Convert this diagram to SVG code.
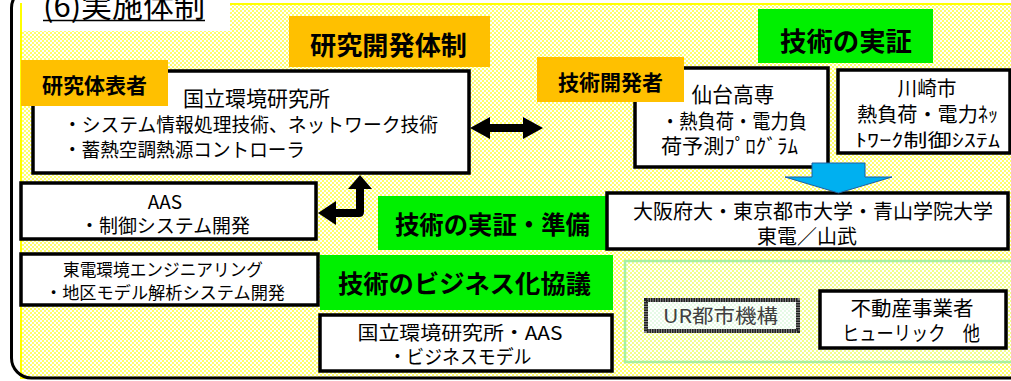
<svg xmlns="http://www.w3.org/2000/svg" width="1011" height="381" viewBox="0 0 1011 381">
<defs>
<pattern id="dots" width="4" height="4" patternUnits="userSpaceOnUse">
<rect width="4" height="4" fill="#ffff6a"/>
<rect x="0" y="0" width="2" height="2" fill="#ffffff"/>
<rect x="2" y="2" width="2" height="2" fill="#ffffff"/>
</pattern>
<pattern id="dotsG" width="4" height="4" patternUnits="userSpaceOnUse">
<rect width="4" height="4" fill="#f2ff8a"/>
<rect x="0" y="0" width="2" height="2" fill="#ffffff"/>
<rect x="2" y="2" width="2" height="2" fill="#ffffff"/>
</pattern>
<pattern id="dotsM" width="4" height="4" patternUnits="userSpaceOnUse">
<rect width="4" height="4" fill="#e6fae6"/>
<rect x="0" y="0" width="2" height="2" fill="#ffffff"/>
<rect x="2" y="2" width="2" height="2" fill="#ffffff"/>
</pattern>
</defs>
<style>
text{font-family:'Noto Sans CJK JP','Liberation Sans',sans-serif;fill:#000}
.box{fill:#fff;stroke:#000;stroke-width:3.5}
.org{fill:#ffc000}
.grn{fill:#00f000}
.lb{font-weight:bold}
.c{text-anchor:middle}
.arr{fill:#000}
</style>
<rect x="0" y="0" width="1011" height="381" fill="#fff"/>
<rect id="bg" x="21" y="4" width="1000" height="374" fill="url(#dots)" stroke="#ffff00" stroke-width="2"/>
<rect x="22" y="0" width="208" height="31" fill="#fff"/>
<rect id="frame" x="11.5" y="-12" width="1020" height="390" rx="20" fill="none" stroke="#000" stroke-width="3"/>
<g id="title">
<text x="43" y="17" font-size="30" textLength="162" lengthAdjust="spacingAndGlyphs">(6)実施体制</text>
<line x1="43" y1="20.5" x2="205" y2="20.5" stroke="#000" stroke-width="1.5"/>
</g>
<g id="label-kenkyu-kaihatsu">
<rect class="org" x="289" y="16" width="201" height="51"/>
<text class="lb" x="310" y="55" font-size="26" textLength="157" lengthAdjust="spacingAndGlyphs">研究開発体制</text>
</g>
<g id="node-nies">
<rect class="box" x="33" y="71" width="436" height="102"/>
<text class="c" x="256.5" y="106" font-size="21" textLength="147" lengthAdjust="spacingAndGlyphs">国立環境研究所</text>
<text x="63" y="132" font-size="19.5" textLength="375" lengthAdjust="spacingAndGlyphs">・システム情報処理技術、ネットワーク技術</text>
<text x="63" y="157" font-size="19.5" textLength="242" lengthAdjust="spacingAndGlyphs">・蓄熱空調熱源コントローラ</text>
</g>
<g id="label-daihyo">
<rect class="org" x="21" y="60" width="147" height="46"/>
<text class="lb" x="42" y="93" font-size="21" textLength="105" lengthAdjust="spacingAndGlyphs">研究体表者</text>
</g>
<g id="node-aas">
<rect class="box" x="21" y="183" width="295" height="56"/>
<text class="c" x="165" y="209" font-size="19">AAS</text>
<text x="80" y="233" font-size="19" textLength="170" lengthAdjust="spacingAndGlyphs">・制御システム開発</text>
</g>
<g id="label-jissho">
<rect class="grn" x="758" y="9" width="175" height="54"/>
<text class="lb" x="780" y="51" font-size="26" textLength="132" lengthAdjust="spacingAndGlyphs">技術の実証</text>
</g>
<g id="node-sendai">
<rect class="box" x="635" y="68" width="193" height="99"/>
<text class="c" x="733" y="102" font-size="21" textLength="83" lengthAdjust="spacingAndGlyphs">仙台高専</text>
<text x="661" y="129" font-size="20" textLength="146" lengthAdjust="spacingAndGlyphs">・熱負荷・電力負</text>
<text x="661" y="154" font-size="20" textLength="137" lengthAdjust="spacingAndGlyphs">荷予測ﾌﾟﾛｸﾞﾗﾑ</text>
</g>
<g id="label-kaihatsusha">
<rect class="org" x="537" y="57" width="147" height="45"/>
<text class="lb" x="558" y="90" font-size="21" textLength="105" lengthAdjust="spacingAndGlyphs">技術開発者</text>
</g>
<g id="node-kawasaki">
<rect class="box" x="838" y="70" width="172" height="83"/>
<text class="c" x="927" y="96" font-size="20" textLength="59" lengthAdjust="spacingAndGlyphs">川崎市</text>
<text x="857" y="122" font-size="20" textLength="141" lengthAdjust="spacingAndGlyphs">熱負荷・電力ﾈｯ</text>
<text x="855" y="147" font-size="18" textLength="145" lengthAdjust="spacingAndGlyphs">ﾄﾜｰｸ制御ｼｽﾃﾑ</text>
</g>
<g id="label-junbi">
<rect class="grn" x="378" y="196" width="230" height="54"/>
<text class="lb" x="395" y="234" font-size="25" textLength="195" lengthAdjust="spacingAndGlyphs">技術の実証・準備</text>
</g>
<g id="node-osaka">
<rect class="box" x="607" y="193" width="401" height="56"/>
<text class="c" x="813" y="219" font-size="20" textLength="360" lengthAdjust="spacingAndGlyphs">大阪府大・東京都市大学・青山学院大学</text>
<text class="c" x="807" y="244" font-size="20" textLength="100" lengthAdjust="spacingAndGlyphs">東電／山武</text>
</g>
<g id="node-tepco">
<rect class="box" x="21" y="254" width="297" height="51"/>
<text class="c" x="163" y="276" font-size="17.5" textLength="200" lengthAdjust="spacingAndGlyphs">東電環境エンジニアリング</text>
<text x="45" y="299" font-size="17.5" textLength="240" lengthAdjust="spacingAndGlyphs">・地区モデル解析システム開発</text>
</g>
<g id="label-business">
<rect class="grn" x="320" y="255" width="293" height="55"/>
<text class="lb" x="338" y="293" font-size="25" textLength="253" lengthAdjust="spacingAndGlyphs">技術のビジネス化協議</text>
</g>
<g id="node-nies-aas">
<rect class="box" x="320" y="315" width="292" height="56"/>
<text class="c" x="460" y="340" font-size="19" textLength="205" lengthAdjust="spacingAndGlyphs">国立環境研究所・AAS</text>
<text class="c" x="460" y="364" font-size="19" textLength="143" lengthAdjust="spacingAndGlyphs">・ビジネスモデル</text>
</g>
<g id="group-partners">
<rect x="625" y="261" width="400" height="101" fill="url(#dotsG)" stroke="#a8f0a0" stroke-width="2.5"/>
</g>
<g id="node-ur">
<rect x="646" y="300" width="152" height="31" fill="url(#dotsM)" stroke="#888" stroke-width="4"/>
<rect x="646" y="300" width="152" height="31" fill="none" stroke="#222" stroke-width="4" stroke-dasharray="1.5 1"/>
<text x="663" y="323" font-size="19" fill="#404040" style="fill:#404040" textLength="115" lengthAdjust="spacingAndGlyphs">UR都市機構</text>
</g>
<g id="node-realestate">
<rect class="box" x="820" y="291" width="186" height="57"/>
<text class="c" x="912" y="316" font-size="20" textLength="123" lengthAdjust="spacingAndGlyphs">不動産事業者</text>
<text x="842" y="341" font-size="20" textLength="138" lengthAdjust="spacingAndGlyphs">ヒューリック　他</text>
</g>
<g id="connectors">
<polygon class="arr" points="470,128 490,117 490,124 523,124 523,117 543,128 523,139 523,132 490,132 490,139"/>
<path class="arr" d="M360,175 L372,189 L364,189 L364,212 Q364,217 359,217 L336,217 L336,225 L318,213 L336,201 L336,209 L356,209 L356,189 L348,189 Z"/>
<polygon points="812,163 865,163 865,177 892,177 838.5,193 785,177 812,177" fill="#00b0f0" stroke="#1f5f9f" stroke-width="1"/>
</g>
</svg>
